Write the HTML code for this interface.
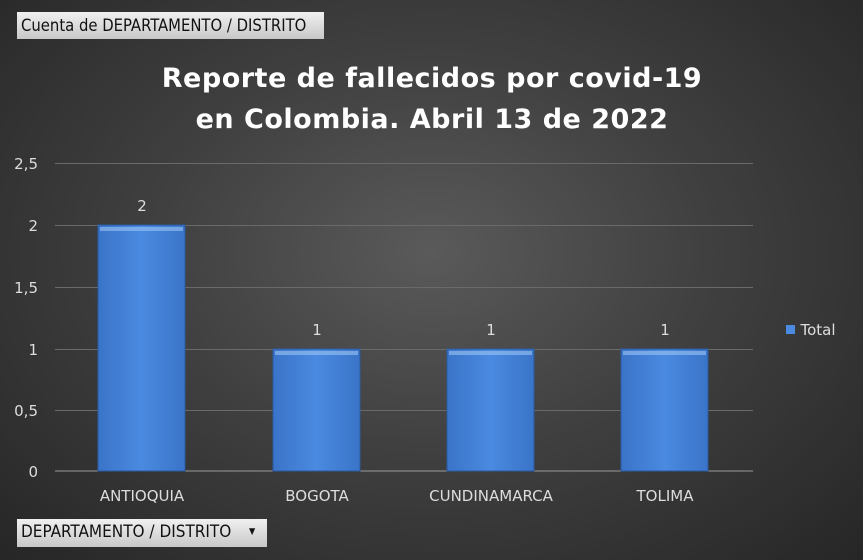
<!DOCTYPE html>
<html><head><style>
body{margin:0;width:863px;height:560px;overflow:hidden;background:radial-gradient(ellipse at 50% 45%,#5a5a5a 0%,#404040 45%,#262626 100%);font-family:"DejaVu Sans","Liberation Sans",sans-serif;position:relative}
.btn{position:absolute;background:linear-gradient(#f0f0f0,#c8c8c8);color:#111;font-size:16.5px;line-height:27px;padding-left:4px;box-sizing:border-box;font-family:"DejaVu Sans Condensed","DejaVu Sans",sans-serif}
</style></head><body>
<div class="btn" style="left:17px;top:12px;width:307px;height:27px">Cuenta de DEPARTAMENTO / DISTRITO</div>
<div class="btn" style="left:17px;top:519px;width:250px;height:28px;font-size:17px">DEPARTAMENTO / DISTRITO<span style="position:absolute;left:232px;top:0;font-size:9px">▼</span></div>
<svg width="863" height="560" style="position:absolute;left:0;top:0">
<defs><linearGradient id="g" x1="0" x2="1"><stop offset="0" stop-color="#3a74c8"/><stop offset="0.5" stop-color="#4a8ae0"/><stop offset="1" stop-color="#3a74c8"/></linearGradient></defs>
<g font-family="DejaVu Sans,Liberation Sans,sans-serif" fill="#fff" font-weight="bold" font-size="27" text-anchor="middle" letter-spacing="0.5">
<text x="432" y="87">Reporte de fallecidos por covid-19</text>
<text x="432" y="128">en Colombia. Abril 13 de 2022</text></g>
<g stroke="#6a6a6a" stroke-width="1">
<line x1="55" x2="753" y1="163.5" y2="163.5"/><line x1="55" x2="753" y1="225.5" y2="225.5"/><line x1="55" x2="753" y1="287.5" y2="287.5"/><line x1="55" x2="753" y1="349.5" y2="349.5"/><line x1="55" x2="753" y1="410.5" y2="410.5"/></g>
<line x1="55" x2="753" y1="471" y2="471" stroke="#9a9a9a"/>
<g fill="#ddd" font-size="15" text-anchor="end" font-family="DejaVu Sans,sans-serif">
<text x="38" y="169">2,5</text><text x="38" y="231">2</text><text x="38" y="293">1,5</text><text x="38" y="355">1</text><text x="38" y="416">0,5</text><text x="38" y="477">0</text></g>
<g fill="url(#g)" stroke="#2a5aa0">
<rect x="98" y="225" width="87" height="246"/><rect x="273" y="349" width="87" height="122"/><rect x="447" y="349" width="87" height="122"/><rect x="621" y="349" width="87" height="122"/></g>
<g fill="#9cc4f4" opacity="0.6"><rect x="100" y="227" width="83" height="4"/><rect x="275" y="351" width="83" height="4"/><rect x="449" y="351" width="83" height="4"/><rect x="623" y="351" width="83" height="4"/></g>
<g fill="#ddd" font-size="15" text-anchor="middle" font-family="DejaVu Sans,sans-serif">
<text x="142" y="211">2</text><text x="317" y="335">1</text><text x="491" y="335">1</text><text x="665" y="335">1</text>
<text x="142" y="501">ANTIOQUIA</text><text x="317" y="501">BOGOTA</text><text x="491" y="501">CUNDINAMARCA</text><text x="665" y="501">TOLIMA</text>
<rect x="786" y="325" width="9" height="9" fill="#4a8ae0"/><text x="818" y="335">Total</text></g>
</svg>
</body></html>
